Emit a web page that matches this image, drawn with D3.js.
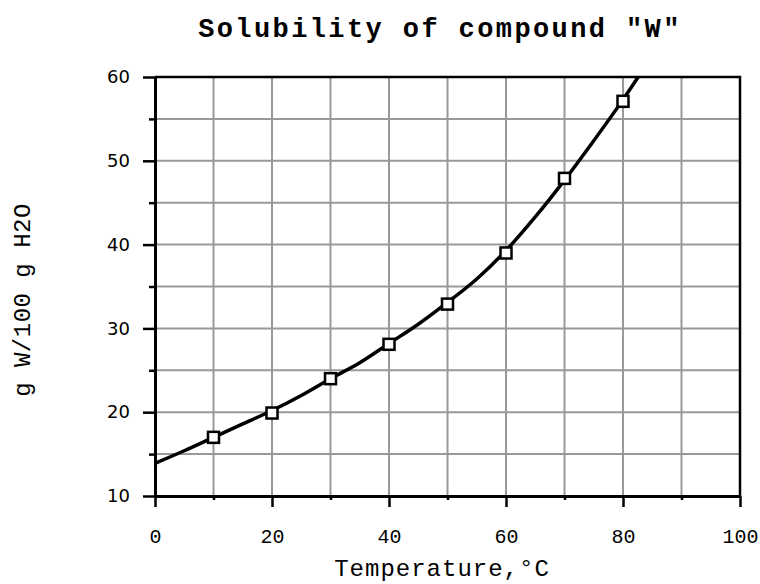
<!DOCTYPE html>
<html>
<head>
<meta charset="utf-8">
<script src="https://cdn.jsdelivr.net/npm/d3@7"></script>
<style>
  body { margin: 0; background: #fff; }
</style>
</head>
<body>
<svg id="chart" width="760" height="584"></svg>
<script>
// Measured points (temperature, g W / 100 g H2O)
const pointT = [10, 20, 30, 40, 50, 60, 70, 80];
const pointY = [17.0, 19.9, 24.0, 28.1, 32.9, 39.0, 47.9, 57.1];

// Fitted curve
const curveT = [0, 5, 10, 15, 20, 25, 30, 35, 40, 45, 50, 55, 60, 65, 70, 75, 80, 82.6];
const curveY = [13.9, 15.4, 17.0, 18.6, 20.2, 22.0, 24.0, 25.9, 28.2, 30.5, 33.1, 35.9, 39.3, 43.3, 47.7, 52.4, 57.3, 60.0];

const xTicks = [0, 20, 40, 60, 80, 100];
const xMinor = [10, 30, 50, 70, 90];
const yTicks = [10, 20, 30, 40, 50, 60];
const yMinor = [15, 25, 35, 45, 55];

const svg = d3.select("#chart");
const plotL = 155, plotR = 740, plotT = 77, plotB = 496;

const x = d3.scaleLinear().domain([0, 100]).range([plotL, plotR]);
const y = d3.scaleLinear().domain([10, 60]).range([plotB, plotT]);

// Grid lines
const grid = svg.append("g").attr("stroke", "#999").attr("stroke-width", 2);
grid.selectAll(".gx")
  .data(d3.range(10, 100, 10))
  .enter().append("line")
  .attr("x1", d => x(d)).attr("x2", d => x(d))
  .attr("y1", plotT).attr("y2", plotB);
grid.selectAll(".gy")
  .data(d3.range(15, 60, 5))
  .enter().append("line")
  .attr("x1", plotL).attr("x2", plotR)
  .attr("y1", d => y(d)).attr("y2", d => y(d));

// Frame: top and right
svg.append("path")
  .attr("d", `M${plotL},${plotT}H${plotR}V${plotB}`)
  .attr("fill", "none").attr("stroke", "#000").attr("stroke-width", 2.5);

// X axis
const xAxis = svg.append("g").attr("transform", `translate(0,${plotB})`)
  .call(d3.axisBottom(x).tickValues(xTicks).tickSize(11).tickSizeOuter(0).tickFormat(d3.format("d")));
svg.append("g").attr("transform", `translate(0,${plotB})`)
  .call(d3.axisBottom(x).tickValues(xMinor).tickSize(4).tickSizeOuter(0).tickFormat(""))
  .call(g => g.select(".domain").remove());

// Y axis
const yAxis = svg.append("g").attr("transform", `translate(${plotL},0)`)
  .call(d3.axisLeft(y).tickValues(yTicks).tickSize(12).tickSizeOuter(0).tickFormat(d3.format("d")));
svg.append("g").attr("transform", `translate(${plotL},0)`)
  .call(d3.axisLeft(y).tickValues(yMinor).tickSize(6).tickSizeOuter(0).tickFormat(""))
  .call(g => g.select(".domain").remove());

svg.selectAll(".domain").attr("stroke", "#000").attr("stroke-width", 3);
svg.selectAll(".tick line").attr("stroke", "#000").attr("stroke-width", 2.5);

xAxis.selectAll("text")
  .attr("font-family", "'Liberation Mono', monospace")
  .attr("font-size", 20).attr("fill", "#000")
  .attr("dy", null).attr("y", 47);

yAxis.selectAll("text")
  .attr("font-family", "'DejaVu Sans', sans-serif")
  .attr("font-size", 18).attr("fill", "#000")
  .attr("x", -25);

// Curve
const line = d3.line()
  .x((d, i) => x(curveT[i]))
  .y(d => y(d))
  .curve(d3.curveMonotoneX);

svg.append("path")
  .datum(curveY)
  .attr("d", line)
  .attr("fill", "none")
  .attr("stroke", "#000")
  .attr("stroke-width", 3.5);

// Markers
svg.selectAll(".pt")
  .data(pointY)
  .enter().append("rect")
  .attr("x", (d, i) => x(pointT[i]) - 5.5)
  .attr("y", d => y(d) - 5.5)
  .attr("width", 11).attr("height", 11)
  .attr("fill", "#fff")
  .attr("stroke", "#000")
  .attr("stroke-width", 2.5);

// Title and axis labels
svg.append("text")
  .attr("x", 440).attr("y", 37)
  .attr("text-anchor", "middle")
  .attr("font-family", "'Liberation Mono', monospace")
  .attr("font-weight", "bold")
  .attr("font-size", 27)
  .attr("letter-spacing", 2.4)
  .text('Solubility of compound "W"');

svg.append("text")
  .attr("x", 442).attr("y", 576)
  .attr("text-anchor", "middle")
  .attr("font-family", "'Liberation Mono', monospace")
  .attr("font-size", 24)
  .attr("letter-spacing", 1)
  .text("Temperature,°C");

svg.append("text")
  .attr("transform", "translate(30,300) rotate(-90)")
  .attr("text-anchor", "middle")
  .attr("font-family", "'Liberation Mono', monospace")
  .attr("font-size", 24)
  .attr("letter-spacing", 0.5)
  .text("g W/100 g H2O");
</script>
</body>
</html>
